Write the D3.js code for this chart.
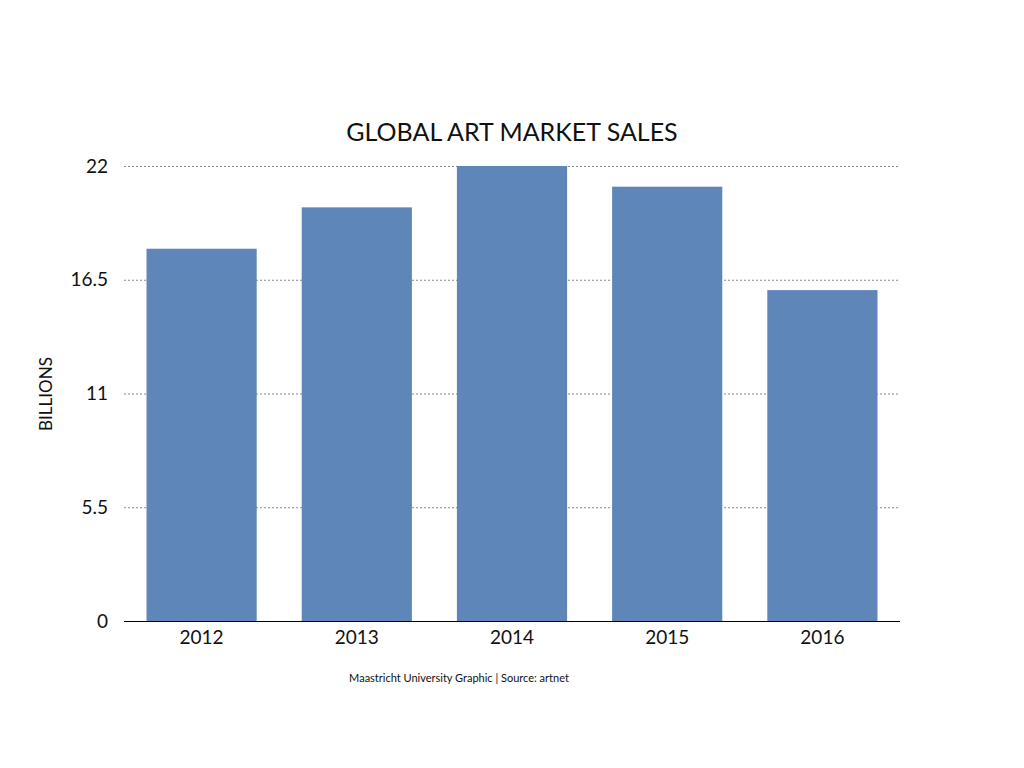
<!DOCTYPE html>
<html>
<head>
<meta charset="utf-8">
<script src="https://cdn.jsdelivr.net/npm/d3@7"></script>
<style>
  body { margin: 0; background: #fff; }
  svg text { font-family: Lato, "Noto Sans", sans-serif; fill: #111; }
</style>
</head>
<body>
<svg width="1024" height="768"></svg>
<script>
// chart data
var years = ["2012", "2013", "2014", "2015", "2016"];
var sales = [18.0, 20.0, 22.0, 21.0, 16.0];
var yTicks = [0, 5.5, 11, 16.5, 22];

var svg = d3.select("svg");
// note: "top" is taken by window.top, so use plotTop etc.
var plotLeft = 124, plotRight = 900, plotTop = 166, plotBottom = 621;

var x = d3.scaleBand()
  .domain(years)
  .range([plotLeft, plotRight])
  .paddingInner(0.29)
  .paddingOuter(0.145);

var y = d3.scaleLinear()
  .domain([0, 22])
  .range([plotBottom, plotTop]);

// dotted gridlines
svg.append("g")
  .selectAll("line")
  .data(yTicks.filter(function(d){ return d > 0; }))
  .enter().append("line")
  .attr("x1", plotLeft)
  .attr("x2", plotRight)
  .attr("y1", function(d){ return y(d) + 0.5; })
  .attr("y2", function(d){ return y(d) + 0.5; })
  .attr("stroke", "#888")
  .attr("stroke-width", 1)
  .attr("stroke-dasharray", "2,2");

// bars
svg.append("g")
  .selectAll("rect")
  .data(sales)
  .enter().append("rect")
  .attr("x", function(d, i){ return x(years[i]); })
  .attr("y", function(d){ return y(d); })
  .attr("width", x.bandwidth())
  .attr("height", function(d){ return y(0) - y(d); })
  .attr("fill", "#5e86b8");

// y axis labels
var yAxis = d3.axisLeft(y).tickValues(yTicks).tickSize(0).tickPadding(16)
  .tickFormat(function(d){ return d; });
var gy = svg.append("g").attr("transform", "translate(" + plotLeft + ",0)").call(yAxis);
gy.select(".domain").remove();
gy.selectAll("text").style("font-size", "19px");

// x axis
var xAxis = d3.axisBottom(x).tickSize(0).tickPadding(9);
var gx = svg.append("g").attr("transform", "translate(0," + (plotBottom + 0.5) + ")").call(xAxis);
gx.select(".domain").attr("d", "M" + plotLeft + ",0H" + plotRight).attr("stroke", "#000").attr("stroke-width", 1.2);
gx.selectAll("text").style("font-size", "19px");

// title
svg.append("text")
  .attr("x", 512)
  .attr("y", 141)
  .attr("text-anchor", "middle")
  .style("font-size", "25px")
  .text("GLOBAL ART MARKET SALES");

// y axis title
svg.append("text")
  .attr("transform", "translate(52,394) rotate(-90)")
  .attr("text-anchor", "middle")
  .style("font-size", "17px")
  .text("BILLIONS");

// source note
svg.append("text")
  .attr("x", 459)
  .attr("y", 682)
  .attr("text-anchor", "middle")
  .style("font-size", "11px")
  .text("Maastricht University Graphic | Source: artnet");
</script>
</body>
</html>
